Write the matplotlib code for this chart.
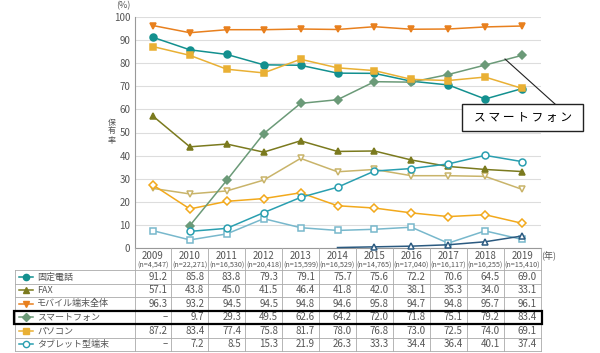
import matplotlib
matplotlib.use("Agg")
import matplotlib.pyplot as plt
import numpy as np

plt.rcParams['font.family'] = ['Noto Sans CJK JP', 'DejaVu Sans']

# データ
years = [2009, 2010, 2011, 2012, 2013, 2014, 2015, 2016, 2017, 2018, 2019]
sample_n = ["4,547", "22,271", "16,530", "20,418", "15,599", "16,529",
            "14,765", "17,040", "16,117", "16,255", "15,410"]

# 表に載っている系列
names = ["固定電話", "FAX", "モバイル端末全体", "スマートフォン", "パソコン", "タブレット型端末"]
fixed_phone = [91.2, 85.8, 83.8, 79.3, 79.1, 75.7, 75.6, 72.2, 70.6, 64.5, 69.0]
fax = [57.1, 43.8, 45.0, 41.5, 46.4, 41.8, 42.0, 38.1, 35.3, 34.0, 33.1]
mobile_all = [96.3, 93.2, 94.5, 94.5, 94.8, 94.6, 95.8, 94.7, 94.8, 95.7, 96.1]
smartphone = [None, 9.7, 29.3, 49.5, 62.6, 64.2, 72.0, 71.8, 75.1, 79.2, 83.4]
pc = [87.2, 83.4, 77.4, 75.8, 81.7, 78.0, 76.8, 73.0, 72.5, 74.0, 69.1]
tablet = [None, 7.2, 8.5, 15.3, 21.9, 26.3, 33.3, 34.4, 36.4, 40.1, 37.4]

# 表が切れている系列
extra_khaki = [25.8, 23.4, 24.7, 29.4, 38.8, 33.0, 34.0, 31.3, 31.3, 31.0, 25.4]
extra_orange = [27.3, 16.9, 20.2, 21.4, 23.9, 18.3, 17.3, 15.2, 13.6, 14.4, 10.7]
extra_lblue = [7.5, 3.5, 6.1, 12.7, 8.8, 7.6, 8.1, 9.0, 2.1, 7.4, 3.7]
extra_navy = [None, None, None, None, None, 0.2, 0.5, 0.8, 1.4, 2.7, 5.2]

# 系列ごとのスタイル (値, 色, マーカー, 塗りつぶし)
series = [
    (fixed_phone, "#13908f", "o", True),
    (fax, "#7b7a1e", "^", True),
    (mobile_all, "#e8801e", "v", True),
    (smartphone, "#6b9a78", "D", True),
    (pc, "#e9b034", "s", True),
    (tablet, "#2a9fb0", "o", False),
]
extras = [
    (extra_khaki, "#c9b46a", "v", False),
    (extra_orange, "#f2a91c", "D", False),
    (extra_lblue, "#78b8cc", "s", False),
    (extra_navy, "#2b5a80", "^", False),
]

W, H = 600, 353
fig = plt.figure(figsize=(6, 3.53), dpi=100)

x_left, x_right = 134.5, 540.5
y_top, y_bot = 17, 248
ax = fig.add_axes([x_left / W, 1 - y_bot / H, (x_right - x_left) / W, (y_bot - y_top) / H])

xs = np.arange(len(years))


def draw(vals, color, marker, filled, z):
    v = np.array([np.nan if a is None else a for a in vals], dtype=float)
    ms = 5 if marker != "D" else 4.5
    valid = [i for i in range(len(v)) if not np.isnan(v[i])]
    # 折れ線の始点が0付近のときはマーカーを付けない
    every = valid[1:] if v[valid[0]] < 1 else valid
    ax.plot(xs, v, color=color, lw=1.1, marker=marker, ms=ms, markevery=every,
            mfc=color if filled else "white", mec=color, mew=1.1,
            zorder=z, clip_on=False)


for s in extras:
    draw(*s, z=3)
for s in series:
    draw(*s, z=4)

ax.set_xlim(-0.5, len(years) - 0.5)
ax.set_ylim(0, 100)
ax.set_yticks(range(0, 101, 10))
ax.set_xticks([])
ax.tick_params(axis="y", length=0, labelsize=7, labelcolor="#555555", pad=3)
ax.grid(axis="y", color="#dddddd", lw=0.8)
ax.set_axisbelow(True)
for side in ["top", "right"]:
    ax.spines[side].set_visible(False)
for side in ["left", "bottom"]:
    ax.spines[side].set_color("#999999")
    ax.spines[side].set_linewidth(0.8)

# オーバーレイ（表・注記）
ov = fig.add_axes([0, 0, 1, 1], facecolor="none")
ov.set_xlim(0, W)
ov.set_ylim(H, 0)
ov.axis("off")

txt = "#555555"
ov.text(123, 6, "(%)", fontsize=6.5, color=txt, ha="center", va="center")
ov.text(112, 131, "保\n有\n率", fontsize=5.8, color=txt, ha="center", va="center",
        linespacing=1.0)
ov.text(549, 256, "(年)", fontsize=6.5, color=txt, ha="center", va="center")

col_w = (x_right - x_left) / len(years)
cx = [x_left + col_w * (i + 0.5) for i in range(len(years))]

# ヘッダー
for i, yr in enumerate(years):
    ov.text(cx[i], 256, str(yr), fontsize=7, color=txt, ha="center", va="center")
    ov.text(cx[i], 266, "(n=%s)" % sample_n[i], fontsize=5.2, color=txt,
            ha="center", va="center")

row_top = 270
row_h = 13.5
n_rows = len(names)
table_bottom = row_top + row_h * n_rows
grid_c = "#aaaaaa"

# 縦線
for k in range(len(years) + 1):
    xb = x_left + col_w * k
    ov.plot([xb, xb], [y_bot, table_bottom], color=grid_c, lw=0.6)
ov.plot([15, 15], [row_top, table_bottom], color=grid_c, lw=0.6)
# 横線
for r in range(n_rows + 1):
    yy = row_top + row_h * r
    ov.plot([15, x_right], [yy, yy], color=grid_c, lw=0.6)

for r, (name, s) in enumerate(zip(names, series)):
    vals, color, marker, filled = s
    yc = row_top + row_h * (r + 0.5)
    ov.plot([19, 33], [yc, yc], color=color, lw=1.1)
    ov.plot([26], [yc], marker=marker, ms=4.5 if marker != "D" else 4, color=color,
            mfc=color if filled else "white", mec=color, mew=1.0)
    ov.text(37, yc, name, fontsize=6.5, color=txt, ha="left", va="center")
    for i, v in enumerate(vals):
        label = "–" if v is None else "%.1f" % v
        ov.text(cx[i] + col_w / 2 - 4, yc, label, fontsize=7, color=txt,
                ha="right", va="center")

# スマートフォン行の枠
sr = names.index("スマートフォン")
ov.add_patch(plt.Rectangle((14, row_top + row_h * sr), x_right - 14 + 1, row_h,
                           fill=False, ec="black", lw=1.6, zorder=6))

# 注記ボックス
ov.plot([505, 555], [59, 104], color="#222222", lw=0.8, zorder=6)
ov.add_patch(plt.Rectangle((462, 104), 121, 27, fc="white", ec="#222222",
                           lw=1.0, zorder=7))
ov.text(523, 117.5, "ス マ ー ト フ ォ ン", fontsize=8.5, color="black",
        ha="center", va="center", zorder=8)

fig.savefig("out.png", dpi=100)
